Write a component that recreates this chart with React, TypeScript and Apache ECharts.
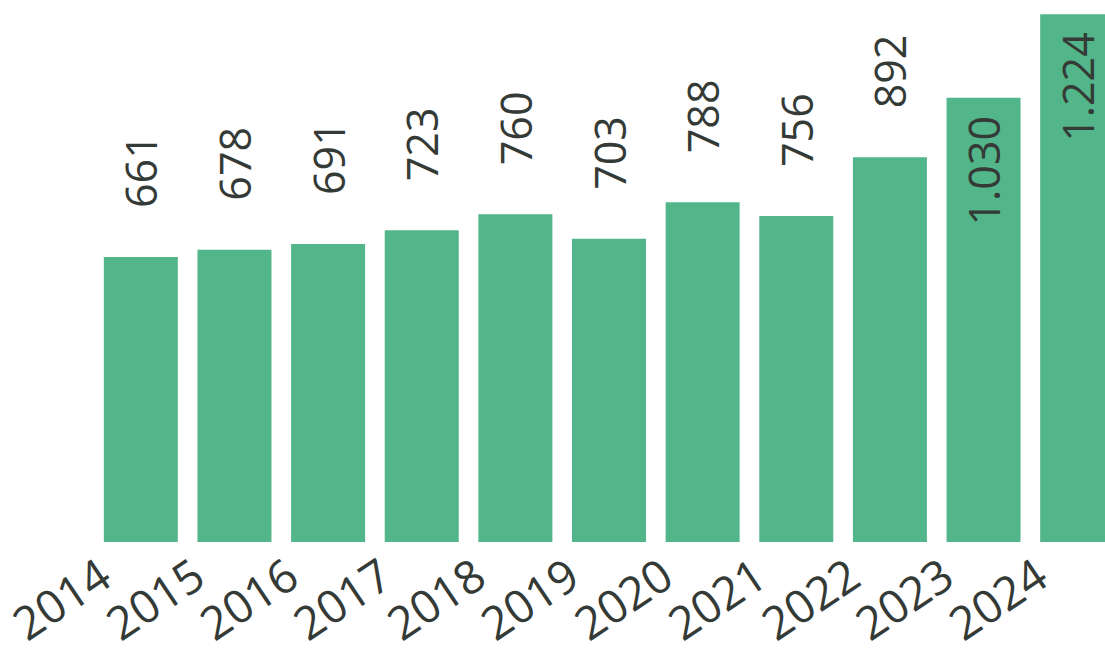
import React, { useEffect, useRef } from "react";
import * as echarts from "echarts";

const years = ["2014", "2015", "2016", "2017", "2018", "2019", "2020", "2021", "2022", "2023", "2024"];
const values = [661, 678, 691, 723, 760, 703, 788, 756, 892, 1030, 1224];

const BAR_COLOR = "#53B58A";
const TEXT_COLOR = "#343a36";
const FONT = "'Segoe UI', 'Open Sans', sans-serif";

function fmt(v: number): string {
  return String(v).replace(/\B(?=(\d{3})+(?!\d))/g, ".");
}

export default function App() {
  const ref = useRef<HTMLDivElement>(null);
  useEffect(() => {
    if (!ref.current) return;
    const chart = echarts.init(ref.current, null, { renderer: "svg" });
    const data = values.map((v) => {
      const inside = v >= 1000;
      return {
        value: v,
        label: inside
          ? { position: "insideTop", distance: 18, align: "right", verticalAlign: "middle" }
          : { position: "top", distance: 49, align: "left", verticalAlign: "middle" },
      };
    });
    chart.setOption({
      animation: false,
      grid: { left: 94, width: 1030, top: 3, bottom: 115, containLabel: false },
      xAxis: {
        type: "category",
        data: years,
        axisLine: { show: false },
        axisTick: { show: false },
        axisLabel: {
          rotate: 34,
          interval: 0,
          fontSize: 46,
          fontFamily: FONT,
          color: TEXT_COLOR,
          margin: 2,
          padding: [0, 44, 0, 0],
        },
      },
      yAxis: {
        type: "value",
        min: 0,
        max: 1250,
        show: false,
        splitLine: { show: false },
      },
      series: [
        {
          type: "bar",
          data,
          barWidth: 74,
          itemStyle: { color: BAR_COLOR },
          label: {
            show: true,
            rotate: 90,
            fontSize: 43,
            lineHeight: 40,
            fontFamily: FONT,
            color: TEXT_COLOR,
            formatter: (p: any) => fmt(p.value),
          },
        },
      ],
    });
    return () => chart.dispose();
  }, []);
  return (
    <div
      style={{ position: "fixed", left: 0, top: 0, width: 1105, height: 657, overflow: "hidden", background: "#fff" }}
    >
      <div ref={ref} style={{ width: 1130, height: 657 }} />
    </div>
  );
}
